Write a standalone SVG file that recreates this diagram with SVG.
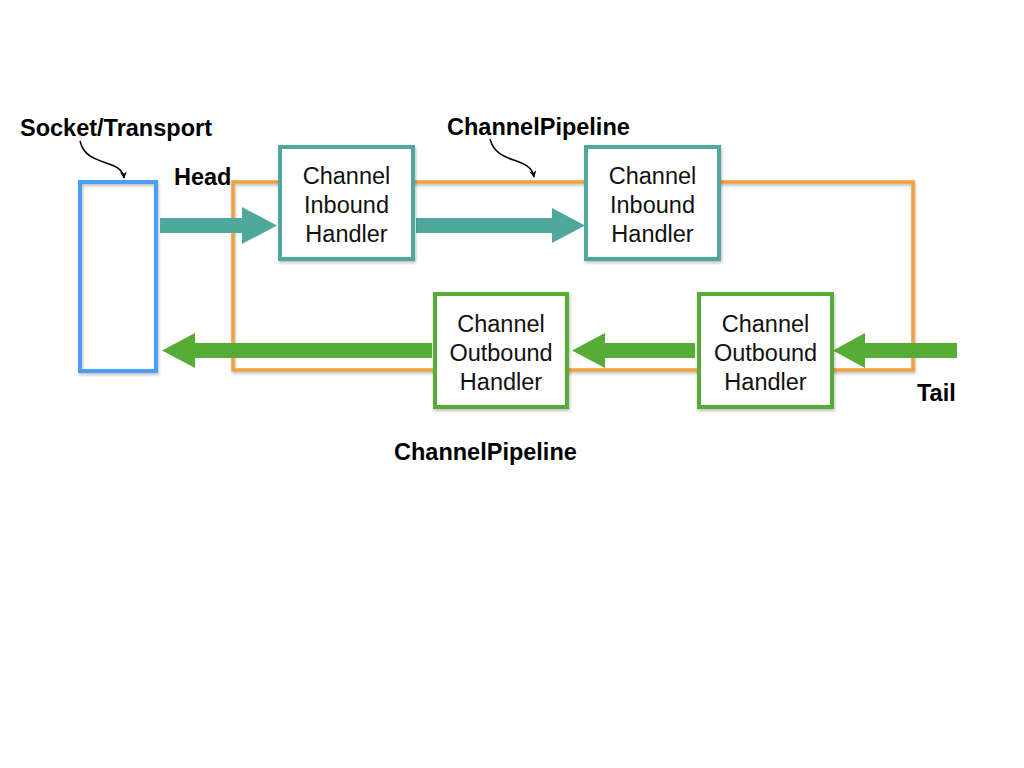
<svg xmlns="http://www.w3.org/2000/svg" width="1024" height="768" viewBox="0 0 1024 768">
<style>
.lbl{font-family:"Liberation Sans",Arial,sans-serif;font-weight:bold;font-size:23.5px;fill:#000}
.bt{font-family:"Liberation Sans",Arial,sans-serif;font-size:23.5px;fill:#111;text-anchor:middle}
.in{fill:#fff;stroke:#4FA89B;stroke-width:4}
.out{fill:#fff;stroke:#55AD36;stroke-width:4}
.ta{fill:#4FA89B}
.ga{fill:#55AD36}
.call{fill:none;stroke:#000;stroke-width:1.5}
</style>
<defs>
<filter id="sh" x="-10%" y="-10%" width="130%" height="130%">
<feDropShadow dx="1" dy="2" stdDeviation="1.5" flood-color="#000" flood-opacity="0.25"/>
</filter>
<marker id="ah" viewBox="0 0 10 10" refX="9" refY="5" markerWidth="7" markerHeight="7" orient="auto" markerUnits="userSpaceOnUse">
<path d="M0,0 L10,5 L0,10 L3,5 Z" fill="#000"/>
</marker>
</defs>
<rect width="1024" height="768" fill="#fff"/>
<g id="socket"><rect x="80" y="182" width="76" height="189" fill="none" stroke="#4A9FF5" stroke-width="4" filter="url(#sh)"/></g>
<g id="pipeline"><rect x="233" y="182" width="680" height="188" fill="none" stroke="#F0A03C" stroke-width="3.5" filter="url(#sh)"/></g>
<g id="connectors">
<path class="ta" d="M160,218 H242 V207 L277,225.5 L242,244 V233 H160 Z"/>
<path class="ta" d="M416,218 H552 V208 L585,225.5 L552,243 V233 H416 Z"/>
<path class="ga" d="M432,343 H195 V333 L162,350.5 L195,368 V358 H432 Z"/>
<path class="ga" d="M695,343 H605 V333 L572,350.5 L605,368 V358 H695 Z"/>
<path class="ga" d="M957,343 H865 V333 L833,350.5 L865,368 V358 H957 Z"/>
<path class="call" d="M80,141 C86,168 122,158 124,178" marker-end="url(#ah)"/>
<path class="call" d="M490,139 C497,166 530,155 534,177" marker-end="url(#ah)"/>
</g>
<g id="in1"><rect class="in" x="280" y="147" width="133" height="112" filter="url(#sh)"/>
<text class="bt" x="346.5" y="183.5">Channel</text><text class="bt" x="346.5" y="212.5">Inbound</text><text class="bt" x="346.5" y="241.5">Handler</text></g>
<g id="in2"><rect class="in" x="586" y="147" width="133" height="112" filter="url(#sh)"/>
<text class="bt" x="652.5" y="183.5">Channel</text><text class="bt" x="652.5" y="212.5">Inbound</text><text class="bt" x="652.5" y="241.5">Handler</text></g>
<g id="out1"><rect class="out" x="435" y="294" width="132" height="113" filter="url(#sh)"/>
<text class="bt" x="501" y="331.5">Channel</text><text class="bt" x="501" y="360.5">Outbound</text><text class="bt" x="501" y="389.5">Handler</text></g>
<g id="out2"><rect class="out" x="699" y="294" width="133" height="113" filter="url(#sh)"/>
<text class="bt" x="765.5" y="331.5">Channel</text><text class="bt" x="765.5" y="360.5">Outbound</text><text class="bt" x="765.5" y="389.5">Handler</text></g>
<g id="labels">
<text class="lbl" x="20" y="136">Socket/Transport</text>
<text class="lbl" x="174" y="185">Head</text>
<text class="lbl" x="447" y="135">ChannelPipeline</text>
<text class="lbl" x="394" y="460">ChannelPipeline</text>
<text class="lbl" x="917" y="401">Tail</text>
</g>
</svg>
